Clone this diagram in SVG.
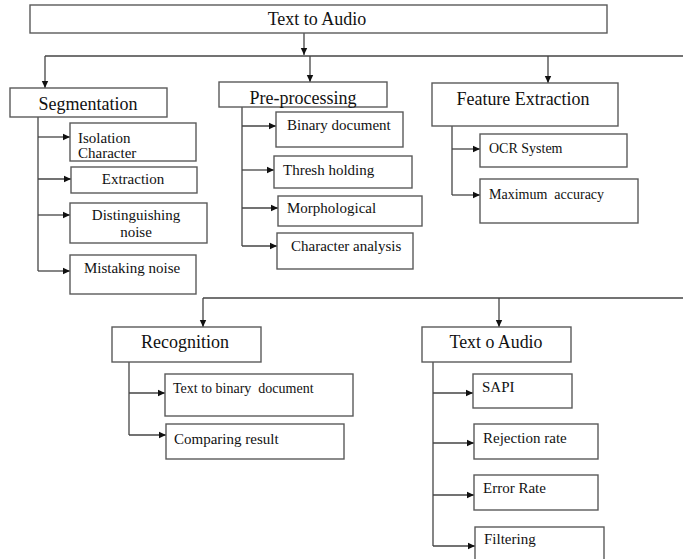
<svg xmlns="http://www.w3.org/2000/svg" width="683" height="559" viewBox="0 0 683 559">
<defs>
<marker id="ah" markerUnits="userSpaceOnUse" markerWidth="8" markerHeight="8" refX="7" refY="4" orient="auto">
<path d="M0,0.8 L7,4 L0,7.2 Z" fill="#111"/>
</marker>
<style>
.box{fill:#fff;stroke:#5a5a5a;stroke-width:1.4}
.ln{fill:none;stroke:#444;stroke-width:1.3}
.ar{fill:none;stroke:#444;stroke-width:1.3;marker-end:url(#ah)}
.h{font-family:"Liberation Serif","Times New Roman",serif;font-size:18px;fill:#111;text-anchor:middle}
.t{font-family:"Liberation Serif","Times New Roman",serif;font-size:15px;fill:#111}
.tc{font-family:"Liberation Serif","Times New Roman",serif;font-size:15px;fill:#111;text-anchor:middle}
.s{font-family:"Liberation Serif","Times New Roman",serif;font-size:14px;fill:#111}
</style>
</defs>
<rect width="683" height="559" fill="#fff"/>
<g id="connectors">
<line class="ar" x1="304" y1="33" x2="304" y2="55"/>
<line class="ln" x1="45" y1="56" x2="683" y2="56"/>
<line class="ar" x1="45" y1="56" x2="45" y2="88"/>
<line class="ar" x1="310" y1="56" x2="310" y2="82"/>
<line class="ar" x1="548" y1="56" x2="548" y2="83"/>
<line class="ln" x1="38" y1="117" x2="38" y2="271"/>
<line class="ar" x1="38" y1="137" x2="70" y2="137"/>
<line class="ar" x1="38" y1="179" x2="71" y2="179"/>
<line class="ar" x1="38" y1="215" x2="70" y2="215"/>
<line class="ar" x1="38" y1="271" x2="70" y2="271"/>
<line class="ln" x1="242" y1="107" x2="242" y2="246"/>
<line class="ar" x1="242" y1="126" x2="276" y2="126"/>
<line class="ar" x1="242" y1="170" x2="274" y2="170"/>
<line class="ar" x1="242" y1="208" x2="278" y2="208"/>
<line class="ar" x1="242" y1="246" x2="277" y2="246"/>
<line class="ln" x1="452" y1="126" x2="452" y2="195"/>
<line class="ar" x1="452" y1="149" x2="480" y2="149"/>
<line class="ar" x1="452" y1="195" x2="480" y2="195"/>
<line class="ln" x1="203" y1="298" x2="683" y2="298"/>
<line class="ar" x1="203" y1="298" x2="203" y2="327"/>
<line class="ar" x1="499" y1="298" x2="499" y2="327"/>
<line class="ln" x1="129" y1="362" x2="129" y2="435"/>
<line class="ar" x1="129" y1="393" x2="165" y2="393"/>
<line class="ar" x1="129" y1="435" x2="166" y2="435"/>
<line class="ln" x1="433" y1="362" x2="433" y2="546"/>
<line class="ar" x1="433" y1="393" x2="473" y2="393"/>
<line class="ar" x1="433" y1="443" x2="474" y2="443"/>
<line class="ar" x1="433" y1="495" x2="474" y2="495"/>
<line class="ar" x1="433" y1="546" x2="475" y2="546"/>
</g>
<g id="root"><rect class="box" x="30" y="5" width="577" height="28"/><text class="h" x="317" y="25" font-size="17">Text to Audio</text></g>
<g id="segmentation"><rect class="box" x="10" y="88" width="157" height="29"/><text class="h" x="88" y="110">Segmentation</text></g>
<g id="isolation"><rect class="box" x="70" y="123" width="126" height="38"/><text class="t" x="78" y="143">Isolation</text><text class="t" x="78" y="158">Character</text></g>
<g id="extraction"><rect class="box" x="71" y="167" width="126" height="26"/><text class="tc" x="133" y="184">Extraction</text></g>
<g id="distinguishing"><rect class="box" x="70" y="203" width="137" height="40"/><text class="tc" x="136" y="220">Distinguishing</text><text class="tc" x="136" y="237">noise</text></g>
<g id="mistaking"><rect class="box" x="70" y="255" width="126" height="39"/><text class="tc" x="132" y="273">Mistaking noise</text></g>
<g id="preprocessing"><rect class="box" x="219" y="82" width="168" height="25"/><text class="h" x="303" y="104">Pre-processing</text></g>
<g id="binary"><rect class="box" x="276" y="112" width="127" height="35"/><text class="t" x="287" y="130">Binary document</text></g>
<g id="thresh"><rect class="box" x="274" y="156" width="138" height="32"/><text class="t" x="283" y="175">Thresh holding</text></g>
<g id="morph"><rect class="box" x="278" y="196" width="144" height="30"/><text class="t" x="287" y="213">Morphological</text></g>
<g id="charanalysis"><rect class="box" x="277" y="233" width="136" height="36"/><text class="t" x="291" y="251">Character analysis</text></g>
<g id="feature"><rect class="box" x="432" y="83" width="186" height="43"/><text class="h" x="523" y="105" textLength="133" lengthAdjust="spacingAndGlyphs">Feature Extraction</text></g>
<g id="ocr"><rect class="box" x="480" y="134" width="147" height="33"/><text class="s" x="489" y="153">OCR System</text></g>
<g id="maxacc"><rect class="box" x="480" y="179" width="158" height="44"/><text class="s" x="489" y="199" xml:space="preserve">Maximum  accuracy</text></g>
<g id="recognition"><rect class="box" x="112" y="327" width="149" height="35"/><text class="h" x="185" y="348">Recognition</text></g>
<g id="textbinary"><rect class="box" x="165" y="374" width="188" height="42"/><text class="s" x="173" y="393" xml:space="preserve">Text to binary  document</text></g>
<g id="comparing"><rect class="box" x="166" y="424" width="178" height="35"/><text class="t" x="174" y="444">Comparing result</text></g>
<g id="textoaudio"><rect class="box" x="422" y="327" width="149" height="35"/><text class="h" x="496" y="348" textLength="93" lengthAdjust="spacingAndGlyphs">Text o Audio</text></g>
<g id="sapi"><rect class="box" x="473" y="374" width="99" height="34"/><text class="t" x="482" y="392">SAPI</text></g>
<g id="rejection"><rect class="box" x="474" y="424" width="124" height="35"/><text class="t" x="483" y="443">Rejection rate</text></g>
<g id="error"><rect class="box" x="474" y="475" width="124" height="35"/><text class="t" x="483" y="493">Error Rate</text></g>
<g id="filtering"><rect class="box" x="475" y="527" width="129" height="45"/><text class="t" x="484" y="544">Filtering</text></g>
</svg>
